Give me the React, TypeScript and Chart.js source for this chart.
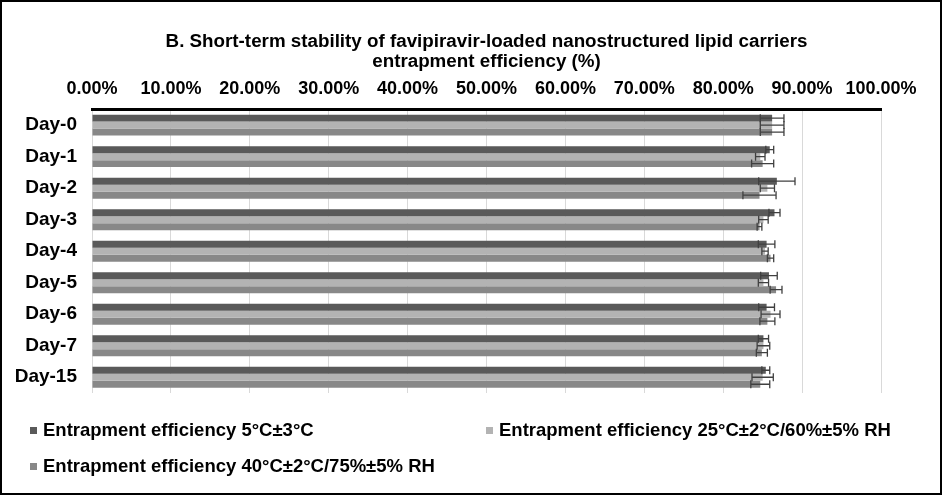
import React, { useEffect, useRef } from 'react';
import { Chart, registerables } from 'chart.js';

Chart.register(...registerables);

const categories = ['Day-0', 'Day-1', 'Day-2', 'Day-3', 'Day-4', 'Day-5', 'Day-6', 'Day-7', 'Day-15'];

const seriesLabels = [
  'Entrapment efficiency 5°C±3°C',
  'Entrapment efficiency 25°C±2°C/60%±5% RH',
  'Entrapment efficiency 40°C±2°C/75%±5% RH',
];

const eeCold = [86.2, 85.9, 86.8, 86.5, 85.5, 85.8, 85.5, 85.1, 85.4];
const eeColdErr = [1.5, 0.5, 2.3, 0.7, 1.05, 1.05, 1.0, 0.65, 0.5];

const eeRoom = [86.2, 84.7, 85.6, 85.1, 85.3, 85.1, 86.0, 85.1, 85.0];
const eeRoomErr = [1.5, 0.6, 0.9, 0.6, 0.4, 0.65, 1.2, 0.8, 1.35];

const eeHot = [86.2, 85.0, 84.6, 84.6, 86.0, 86.7, 85.6, 84.9, 84.7];
const eeHotErr = [1.5, 1.4, 2.1, 0.3, 0.4, 0.75, 0.95, 0.7, 1.2];

const seriesColors = ['#5a5a5a', '#b3b3b3', '#888888'];

const titleLines = [
  'B. Short-term stability of favipiravir-loaded nanostructured lipid carriers',
  'entrapment efficiency (%)',
];

const FONT = "'Liberation Sans', Arial, Helvetica, sans-serif";

const errorBarsPlugin = {
  id: 'errorBars',
  afterDatasetsDraw(chart: any) {
    const ctx = chart.ctx;
    const xs = chart.scales.x;
    chart.data.datasets.forEach((ds: any, i: number) => {
      const meta = chart.getDatasetMeta(i);
      meta.data.forEach((bar: any, j: number) => {
        const v = ds.data[j];
        const e = ds.errors[j];
        const x1 = xs.getPixelForValue(v - e);
        const x2 = xs.getPixelForValue(v + e);
        const y = bar.y;
        const h = 4;
        ctx.save();
        ctx.strokeStyle = '#404040';
        ctx.lineWidth = 1.3;
        ctx.beginPath();
        ctx.moveTo(x1, y);
        ctx.lineTo(x2, y);
        ctx.moveTo(x1, y - h);
        ctx.lineTo(x1, y + h);
        ctx.moveTo(x2, y - h);
        ctx.lineTo(x2, y + h);
        ctx.stroke();
        ctx.restore();
      });
    });
  },
};

export default function App() {
  const canvasRef = useRef<HTMLCanvasElement | null>(null);

  useEffect(() => {
    if (!canvasRef.current) return;
    const values = [eeCold, eeRoom, eeHot];
    const errors = [eeColdErr, eeRoomErr, eeHotErr];
    const chart = new Chart(canvasRef.current, {
      type: 'bar',
      data: {
        labels: categories,
        datasets: seriesLabels.map((label, i) => ({
          label,
          data: values[i],
          errors: errors[i],
          backgroundColor: seriesColors[i],
          borderWidth: 0,
          barPercentage: 1,
          categoryPercentage: 0.665,
        })) as any,
      },
      options: {
        indexAxis: 'y',
        responsive: false,
        animation: false,
        layout: { padding: { left: 0, right: 59, top: 0, bottom: 100 } },
        plugins: {
          legend: { display: false },
          tooltip: { enabled: false },
          title: {
            display: true,
            fullSize: false,
            text: titleLines,
            color: '#000',
            font: { family: FONT, size: 18.8, weight: 'bold', lineHeight: 1.1 },
            padding: { top: 29, bottom: 7 },
          },
        },
        scales: {
          x: {
            position: 'top',
            min: 0,
            max: 100,
            afterFit: (scale: any) => { scale.height = 30; },
            ticks: {
              stepSize: 10,
              padding: 10,
              color: '#000',
              font: { family: FONT, size: 18, weight: 'bold' },
              callback: (v: any) => `${Number(v).toFixed(2)}%`,
              maxRotation: 0,
            },
            grid: { color: '#d9d9d9', lineWidth: 1, drawTicks: false },
            border: { display: true, color: '#000', width: 3 },
          },
          y: {
            afterFit: (scale: any) => { scale.width = 90; },
            ticks: {
              padding: 15,
              color: '#000',
              font: { family: FONT, size: 19, weight: 'bold' },
            },
            grid: { display: false, drawTicks: false },
            border: { display: false },
          },
        },
      },
      plugins: [errorBarsPlugin],
    } as any);
    return () => chart.destroy();
  }, []);

  const legendText: React.CSSProperties = {
    fontFamily: FONT,
    fontWeight: 'bold',
    fontSize: '18.5px',
    color: '#000',
    whiteSpace: 'nowrap',
  };
  const item = (i: number, left: number, top: number) => (
    <div
      key={i}
      style={{ position: 'absolute', left, top, height: 24, display: 'flex', alignItems: 'center' }}
    >
      <span style={{ display: 'inline-block', width: 7, height: 7, background: seriesColors[i], marginRight: 6 }} />
      <span style={legendText}>{seriesLabels[i]}</span>
    </div>
  );

  return (
    <div
      style={{
        position: 'absolute',
        left: 0,
        top: 0,
        width: 942,
        height: 495,
        boxSizing: 'border-box',
        border: '2px solid #000',
        background: '#fff',
        overflow: 'hidden',
      }}
    >
      <canvas ref={canvasRef} width={938} height={491} style={{ position: 'absolute', left: 0, top: 0 }} />
      {item(0, 28, 416)}
      {item(1, 484, 416)}
      {item(2, 28, 452)}
    </div>
  );
}
